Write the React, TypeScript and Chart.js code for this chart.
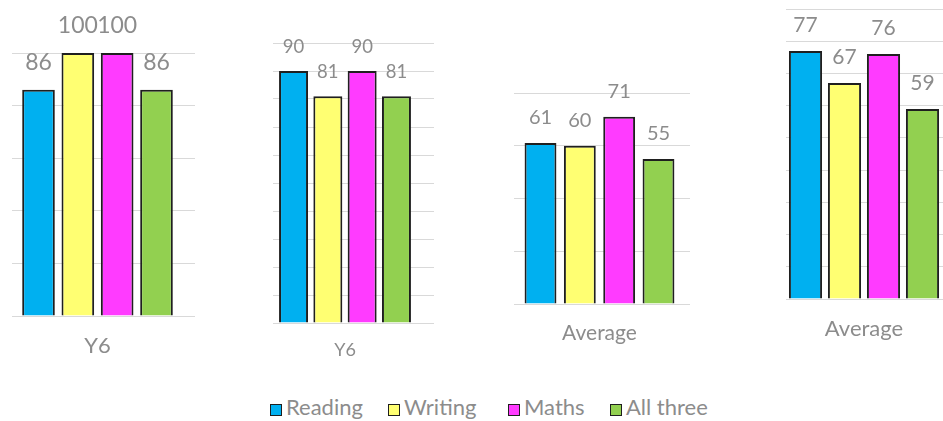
import React, { useEffect, useRef } from "react";
import { Chart, registerables } from "chart.js";

Chart.register(...registerables);

const FONT = "Lato, 'Open Sans', sans-serif";
const TEXT_GRAY = "#8c8c8c";
const GRID_GRAY = "#d9d9d9";
const BAR_BORDER = "#1f1f1f";

// ---- data ----
const seriesNames = ["Reading", "Writing", "Maths", "All three"];
const seriesColors = ["#00B0F0", "#FFFF72", "#FF3BFF", "#92D050"];

const panel1Categories = ["Y6"];
const panel1Values = [86, 100, 100, 86];

const panel2Categories = ["Y6"];
const panel2Values = [90, 81, 90, 81];

const panel3Categories = ["Average"];
const panel3Values = [61, 60, 71, 55];

const panel4Categories = ["Average"];
const panel4Values = [77, 67, 76, 59];

const axisMax = [100, 100, 80, 90];
const axisStep = [20, 10, 20, 10];

// ---- layout (positions / sizes / styles) ----
type Layout = {
  left: number;
  width: number;
  padLeft: number;
  padRight: number;
  padTop: number;
  padBottom: number;
  ext: number;
  catPct: number;
  barPct: number;
  labelSize: number;
  labelOffset: number;
  catSize: number;
  catPad: number;
};

const CANVAS_H = 380;
const X_AXIS_H = 50;

const panelLayouts: Layout[] = [
  { left: 0, width: 230, padLeft: 12, padRight: 35, padTop: 53, padBottom: CANVAS_H - 316 - X_AXIS_H, ext: 12, catPct: 0.92, barPct: 0.83, labelSize: 23, labelOffset: 27, catSize: 22, catPad: 17 },
  { left: 230, width: 240, padLeft: 43, padRight: 36, padTop: 43, padBottom: CANVAS_H - 323 - X_AXIS_H, ext: 17, catPct: 0.953, barPct: 0.845, labelSize: 18.5, labelOffset: 24, catSize: 18, catPad: 16 },
  { left: 470, width: 240, padLeft: 44, padRight: 20, padTop: 93, padBottom: CANVAS_H - 304 - X_AXIS_H, ext: 5, catPct: 0.92, barPct: 0.81, labelSize: 20, labelOffset: 25.5, catSize: 21, catPad: 17 },
  { left: 710, width: 233, padLeft: 76, padRight: 0, padTop: 9, padBottom: CANVAS_H - 299 - X_AXIS_H, ext: 1, catPct: 1.0, barPct: 0.85, labelSize: 21, labelOffset: 26, catSize: 22, catPad: 17 },
];

const legendLefts = [270, 388, 508, 610];

const valueLabels = {
  id: "valueLabels",
  afterDatasetsDraw(chart: any, _args: any, opts: any) {
    const ctx = chart.ctx;
    ctx.save();
    ctx.font = `${opts.size}px ${FONT}`;
    ctx.fillStyle = opts.color;
    ctx.textAlign = "center";
    ctx.textBaseline = "middle";
    chart.data.datasets.forEach((ds: any, i: number) => {
      const meta = chart.getDatasetMeta(i);
      meta.data.forEach((el: any, j: number) => {
        ctx.fillText(String(ds.data[j]), el.x, el.y - opts.offset);
      });
    });
    ctx.restore();
  },
};

function BarPanel(props: {
  categories: string[];
  values: number[];
  max: number;
  step: number;
  layout: Layout;
}) {
  const ref = useRef<HTMLCanvasElement>(null);
  const { categories, values, max, step, layout } = props;
  useEffect(() => {
    const chart = new Chart(ref.current as HTMLCanvasElement, {
      type: "bar",
      data: {
        labels: categories,
        datasets: seriesNames.map((name, i) => ({
          label: name,
          data: [values[i]],
          backgroundColor: seriesColors[i],
          borderColor: BAR_BORDER,
          borderWidth: 2,
          categoryPercentage: layout.catPct,
          barPercentage: layout.barPct,
        })),
      },
      options: {
        animation: false,
        responsive: false,
        devicePixelRatio: 1,
        layout: {
          padding: {
            left: layout.padLeft,
            right: layout.padRight,
            top: layout.padTop,
            bottom: layout.padBottom,
          },
        },
        plugins: {
          legend: { display: false },
          tooltip: { enabled: false },
          valueLabels: { size: layout.labelSize, offset: layout.labelOffset, color: TEXT_GRAY },
        } as any,
        scales: {
          x: {
            grid: { display: false, drawTicks: false },
            border: { display: false },
            ticks: {
              color: TEXT_GRAY,
              font: { family: FONT, size: layout.catSize },
              padding: layout.catPad,
            },
            afterFit: (s: any) => {
              s.height = X_AXIS_H;
            },
          },
          y: {
            position: "right",
            min: 0,
            max: max,
            ticks: { display: false, stepSize: step },
            grid: {
              color: GRID_GRAY,
              lineWidth: 1,
              drawTicks: layout.ext > 0,
              tickLength: layout.ext,
            },
            border: { display: false },
            afterFit: (s: any) => {
              s.width = layout.ext;
            },
          },
        },
      },
      plugins: [valueLabels as any],
    });
    return () => chart.destroy();
  }, []);
  return (
    <canvas
      ref={ref}
      width={layout.width}
      height={CANVAS_H}
      style={{
        position: "absolute",
        left: layout.left,
        top: 0,
        width: layout.width,
        height: CANVAS_H,
      }}
    />
  );
}

export default function App() {
  const panels = [
    { categories: panel1Categories, values: panel1Values },
    { categories: panel2Categories, values: panel2Values },
    { categories: panel3Categories, values: panel3Values },
    { categories: panel4Categories, values: panel4Values },
  ];
  return (
    <div
      style={{
        position: "fixed",
        left: 0,
        top: 0,
        width: 943,
        height: 421,
        background: "#ffffff",
        overflow: "hidden",
      }}
    >
      {panels.map((p, i) => (
        <BarPanel
          key={i}
          categories={p.categories}
          values={p.values}
          max={axisMax[i]}
          step={axisStep[i]}
          layout={panelLayouts[i]}
        />
      ))}
      {seriesNames.map((name, i) => (
        <div
          key={name}
          style={{
            position: "absolute",
            left: legendLefts[i],
            top: 395,
            height: 24,
            whiteSpace: "nowrap",
          }}
        >
          <span
            style={{
              position: "absolute",
              left: 0,
              top: 9,
              width: 10,
              height: 10,
              border: "1px solid #1f1f1f",
              background: seriesColors[i],
            }}
          />
          <span
            style={{
              position: "absolute",
              left: 16,
              top: 0,
              fontFamily: FONT,
              fontSize: 22,
              lineHeight: "24px",
              color: TEXT_GRAY,
            }}
          >
            {name}
          </span>
        </div>
      ))}
    </div>
  );
}
